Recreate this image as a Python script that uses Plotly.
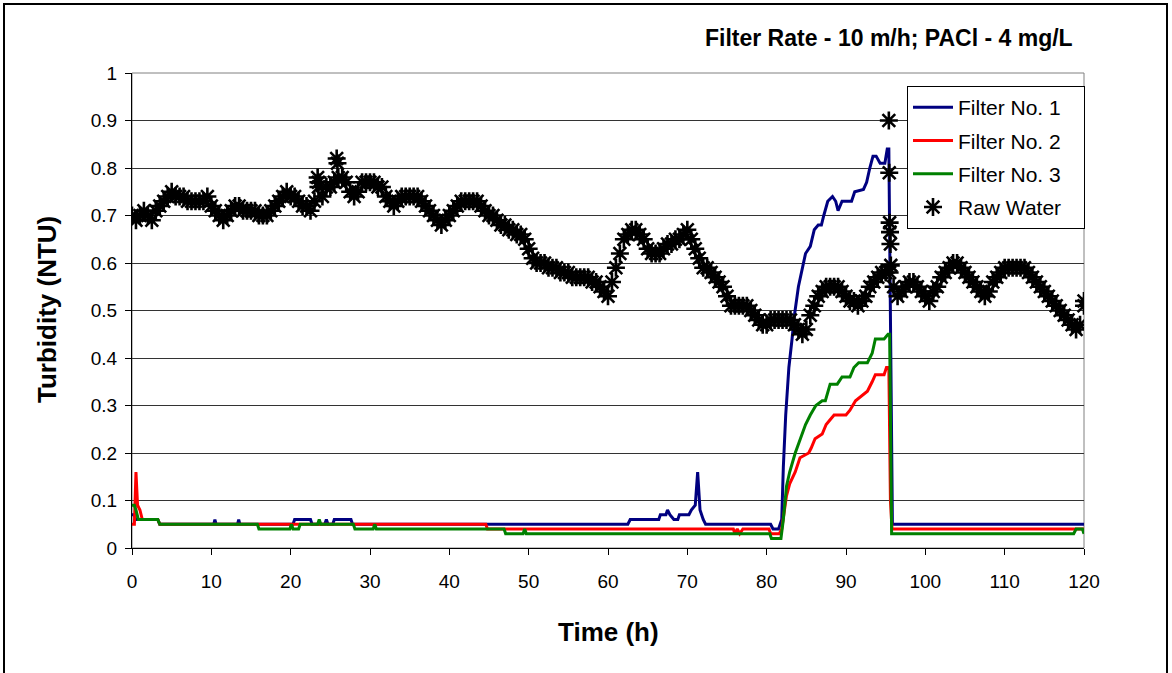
import numpy as np
import plotly.graph_objects as go

# ---------------- data ----------------
f1_t = [0, 0.25, 0.5, 3.25, 3.5, 10.3, 10.45, 10.6, 13.3, 13.45, 13.6, 20.3, 20.5, 22.5, 22.7,
        24.3, 24.5, 24.7, 25.3, 25.5, 27.6, 27.8, 62.5, 62.8, 66.4, 66.6, 67.3, 67.5, 67.8, 68.3,
        68.8, 69.0, 70.2, 70.5, 71.0, 71.3, 71.6, 72.0, 72.3, 80.5, 80.8, 81.5, 81.9, 82.1, 82.4,
        82.8, 83.2, 83.5, 84.0, 84.4, 84.9, 85.5, 86.0, 86.5, 86.9, 87.2, 87.7, 88.3, 88.7, 89.0,
        89.5, 90.7, 91.1, 92.2, 92.6, 93.0, 93.4, 93.8, 94.3, 94.9, 95.2, 95.4, 95.85, 120]
f1_v = [0.07, 0.07, 0.06, 0.06, 0.05, 0.05, 0.06, 0.05, 0.05, 0.06, 0.05, 0.05, 0.06, 0.06, 0.05,
        0.05, 0.06, 0.05, 0.05, 0.06, 0.06, 0.05, 0.05, 0.06, 0.06, 0.07, 0.07, 0.08, 0.07, 0.06,
        0.06, 0.07, 0.07, 0.08, 0.09, 0.16, 0.08, 0.06, 0.05, 0.05, 0.04, 0.04, 0.06, 0.17, 0.28,
        0.38, 0.44, 0.49, 0.55, 0.58, 0.62, 0.635, 0.67, 0.68, 0.68, 0.70, 0.73, 0.74, 0.73, 0.71,
        0.73, 0.73, 0.75, 0.755, 0.77, 0.80, 0.825, 0.825, 0.81, 0.81, 0.84, 0.84, 0.05, 0.05]

f2_t = [0, 0.3, 0.5, 0.7, 1.0, 1.3, 3.25, 3.5, 44.6, 44.8, 75.8, 76.0, 76.3, 76.6, 77.0, 80.3,
        80.5, 81.6, 81.9, 82.2, 82.5, 82.9, 83.6, 84.2, 85.3, 85.6, 86.1, 87.0, 87.5, 88.0, 88.5,
        90.0, 90.5, 91.2, 92.0, 92.7, 93.3, 93.7, 94.8, 95.1, 95.4, 95.6, 95.8, 120]
f2_v = [0.05, 0.05, 0.16, 0.09, 0.08, 0.06, 0.06, 0.05, 0.05, 0.04, 0.04, 0.03, 0.04, 0.03, 0.04, 0.04,
        0.03, 0.03, 0.04, 0.08, 0.11, 0.135, 0.16, 0.19, 0.20, 0.21, 0.23, 0.24, 0.26, 0.27, 0.28,
        0.28, 0.29, 0.31, 0.32, 0.33, 0.35, 0.365, 0.365, 0.38, 0.38, 0.10, 0.04, 0.04]

f3_t = [0, 0.3, 0.5, 0.8, 3.25, 3.5, 15.8, 16.0, 19.9, 20.1, 20.3, 21.0, 21.2, 23.4, 23.6, 23.8,
        27.9, 28.1, 30.4, 30.6, 30.8, 46.9, 47.1, 49.3, 49.5, 49.7, 80.4, 80.6, 81.8, 82.1, 82.5,
        82.9, 83.6, 84.2, 84.9, 85.5, 86.2, 87.0, 87.4, 88.0, 88.9, 89.5, 90.5, 91.0, 91.6, 92.7,
        93.3, 93.7, 94.8, 95.3, 95.5, 95.75, 118.7, 119.0, 119.8, 120.0]
f3_v = [0.09, 0.09, 0.08, 0.06, 0.06, 0.05, 0.05, 0.04, 0.04, 0.05, 0.04, 0.04, 0.05, 0.05, 0.06, 0.05,
        0.05, 0.04, 0.04, 0.05, 0.04, 0.04, 0.03, 0.03, 0.04, 0.03, 0.03, 0.02, 0.02, 0.06, 0.13,
        0.16, 0.20, 0.23, 0.26, 0.28, 0.30, 0.31, 0.31, 0.345, 0.345, 0.36, 0.36, 0.38, 0.39, 0.39,
        0.41, 0.44, 0.44, 0.45, 0.45, 0.03, 0.03, 0.04, 0.04, 0.03]

# raw water, sampled every 0.5 h from 0 to 120 h
raw_t = np.arange(0, 120.5, 0.5)
raw_v = [
    0.70, 0.69, 0.70, 0.71, 0.70, 0.69, 0.71, 0.72, 0.73, 0.74, 0.75, 0.74, 0.74, 0.74, 0.73, 0.73, 0.73, 0.73, 0.73, 0.74,
    0.72, 0.71, 0.70, 0.69, 0.70, 0.71, 0.72, 0.72, 0.71, 0.71, 0.71, 0.71, 0.70, 0.70, 0.70, 0.71, 0.72, 0.73, 0.74, 0.75,
    0.74, 0.74, 0.73, 0.72, 0.72, 0.71, 0.73, 0.76, 0.74, 0.76, 0.76, 0.77, 0.78, 0.78, 0.77, 0.75, 0.74, 0.75, 0.77, 0.77,
    0.77, 0.77, 0.76, 0.76, 0.74, 0.73, 0.72, 0.73, 0.74, 0.74, 0.74, 0.74, 0.74, 0.73, 0.72, 0.71, 0.70, 0.69, 0.68, 0.69,
    0.70, 0.71, 0.72, 0.73, 0.73, 0.73, 0.73, 0.73, 0.72, 0.71, 0.70, 0.70, 0.69, 0.68, 0.68, 0.67, 0.67, 0.66, 0.66, 0.65,
    0.63, 0.61, 0.60, 0.60, 0.60, 0.59, 0.59, 0.59, 0.58, 0.58, 0.58, 0.57, 0.57, 0.57, 0.57, 0.57, 0.56, 0.56, 0.55, 0.54,
    0.53, 0.56, 0.59, 0.62, 0.65, 0.66, 0.67, 0.67, 0.66, 0.65, 0.63, 0.62, 0.62, 0.62, 0.63, 0.64, 0.64, 0.65, 0.65, 0.66,
    0.67, 0.65, 0.63, 0.61, 0.59, 0.59, 0.58, 0.57, 0.56, 0.55, 0.53, 0.51, 0.51, 0.51, 0.51, 0.51, 0.50, 0.49, 0.48, 0.47,
    0.47, 0.48, 0.48, 0.48, 0.48, 0.48, 0.48, 0.47, 0.46, 0.45, 0.46, 0.49, 0.51, 0.53, 0.54, 0.55, 0.55, 0.55, 0.55, 0.54,
    0.53, 0.52, 0.52, 0.51, 0.52, 0.53, 0.55, 0.56, 0.57, 0.58, 0.58, 0.58, 0.55, 0.53, 0.54, 0.55, 0.56, 0.56, 0.55, 0.54,
    0.53, 0.52, 0.54, 0.55, 0.57, 0.58, 0.59, 0.60, 0.60, 0.59, 0.58, 0.57, 0.56, 0.55, 0.54, 0.53, 0.54, 0.56, 0.57, 0.58,
    0.59, 0.59, 0.59, 0.59, 0.59, 0.59, 0.58, 0.57, 0.56, 0.55, 0.54, 0.53, 0.52, 0.51, 0.50, 0.49, 0.48, 0.47, 0.46, 0.47,
    0.51]
spike_t = [23.4, 23.5, 25.8, 25.9, 95.4, 95.45, 95.5, 95.55, 95.6, 95.65, 120.0]
spike_v = [0.78, 0.77, 0.82, 0.81, 0.90, 0.79, 0.685, 0.665, 0.64, 0.595, 0.52]

x_ticks = list(range(0, 121, 10))
y_ticks = [0, 0.1, 0.2, 0.3, 0.4, 0.5, 0.6, 0.7, 0.8, 0.9, 1]
y_tick_text = ["0", "0.1", "0.2", "0.3", "0.4", "0.5", "0.6", "0.7", "0.8", "0.9", "1"]

series_names = ["Filter No. 1", "Filter No. 2", "Filter No. 3", "Raw Water"]
title_text = "Filter Rate - 10 m/h; PACl - 4 mg/L"
x_title = "Time (h)"
y_title = "Turbidity (NTU)"

# ---------------- figure ----------------
FONT = "Arial, Liberation Sans, sans-serif"
PAD = "\u00a0\u00a0\u00a0"  # trailing padding widens the legend box like the original
fig = go.Figure()
fig.add_trace(go.Scatter(x=f1_t, y=f1_v, mode="lines", name=series_names[0] + PAD,
                         line=dict(color="#000080", width=3), legendgroup="a"))
fig.add_trace(go.Scatter(x=f2_t, y=f2_v, mode="lines", name=series_names[1] + PAD,
                         line=dict(color="#FF0000", width=3), legendgroup="b"))
fig.add_trace(go.Scatter(x=f3_t, y=f3_v, mode="lines", name=series_names[2] + PAD,
                         line=dict(color="#008000", width=3), legendgroup="c"))
fig.add_trace(go.Scatter(x=list(raw_t) + spike_t, y=raw_v + spike_v, mode="markers",
                         name=series_names[3] + PAD,
                         marker=dict(symbol="asterisk-open", size=15, color="black",
                                     line=dict(color="black", width=2.6)), legendgroup="d"))

L, R, T, B = 132, 1084, 73, 548
W, H = 1172, 673


def px(x):
    return (x - L) / (R - L)


def py(y):
    return (B - y) / (B - T)


fig.update_layout(
    width=W, height=H,
    margin=dict(l=L, r=W - R, t=T, b=H - B, autoexpand=False),
    paper_bgcolor="white", plot_bgcolor="white",
    font=dict(family=FONT, color="black", size=19),
    showlegend=True,
    legend=dict(x=px(907), y=py(86), xanchor="left", yanchor="top",
                bgcolor="white", bordercolor="black", borderwidth=1,
                font=dict(size=21, family=FONT), tracegroupgap=3,
                itemwidth=40),
    xaxis=dict(range=[0, 120], tickvals=x_ticks, ticks="outside", ticklen=6, tickcolor="black",
               showline=True, linecolor="black", linewidth=1, showgrid=False, zeroline=False,
               tickfont=dict(size=19), ticklabelstandoff=10),
    yaxis=dict(range=[0, 1], tickvals=y_ticks, ticktext=y_tick_text, ticks="outside", ticklen=6,
               tickcolor="black", showline=True, linecolor="black", linewidth=1, showgrid=True,
               gridcolor="#333333", gridwidth=1, zeroline=False, tickfont=dict(size=19),
               ticklabelstandoff=4),
    annotations=[
        dict(text="<b>" + title_text + "</b>", x=px(1075), y=py(38), xref="paper", yref="paper",
             xanchor="right", yanchor="middle", showarrow=False,
             font=dict(size=23, family=FONT, color="black")),
        dict(text="<b>" + x_title + "</b>", x=0.5, y=py(632), xref="paper", yref="paper",
             xanchor="center", yanchor="middle", showarrow=False, font=dict(size=26, family=FONT)),
        dict(text="<b>" + y_title + "</b>", x=px(47), y=py(310), xref="paper", yref="paper",
             xanchor="center", yanchor="middle", showarrow=False, textangle=-90,
             font=dict(size=26, family=FONT)),
    ],
    shapes=[
        dict(type="rect", xref="paper", yref="paper", x0=0, x1=1, y0=0, y1=1,
             line=dict(color="#808080", width=1), layer="below"),
        dict(type="rect", xref="paper", yref="paper", x0=px(4), x1=px(1167), y0=py(690), y1=py(4),
             line=dict(color="black", width=2), layer="below"),
    ],
)

fig.write_html("out.html")
